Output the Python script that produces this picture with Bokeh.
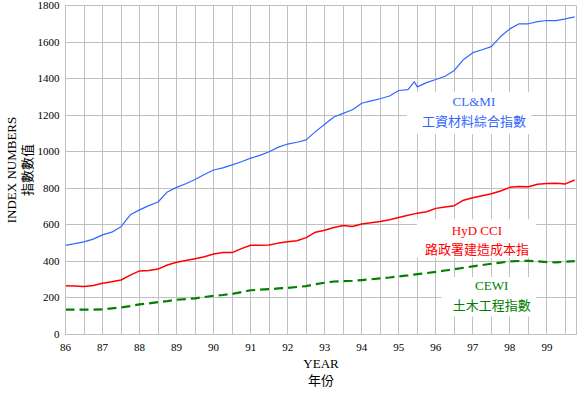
from bokeh.plotting import figure
from bokeh.models import FixedTicker, Range1d, Label, BoxAnnotation, Title
from bokeh.embed import file_html
from bokeh.resources import INLINE

# Quarterly positions (decimal years, 86 = 1986)
years = [86.0, 86.25, 86.5, 86.75, 87.0, 87.25, 87.5, 87.75, 88.0, 88.25, 88.5, 88.75,
         89.0, 89.25, 89.5, 89.75, 90.0, 90.25, 90.5, 90.75, 91.0, 91.25, 91.5, 91.75,
         92.0, 92.25, 92.5, 92.75, 93.0, 93.25, 93.5, 93.75, 94.0, 94.25, 94.5, 94.75,
         95.0, 95.25, 95.42, 95.5, 95.75, 96.0, 96.25, 96.5, 96.75, 97.0, 97.25, 97.5,
         97.75, 98.0, 98.25, 98.5, 98.75, 99.0, 99.25, 99.5, 99.75]

clmi = [488, 497, 507, 522, 545, 560, 590, 655, 682, 705, 725, 780,
        805, 825, 848, 875, 900, 912, 928, 945, 965, 980, 1000, 1025,
        1042, 1052, 1065, 1110, 1150, 1190, 1210, 1230, 1265, 1278, 1290, 1305,
        1335, 1340, 1383, 1355, 1378, 1395, 1413, 1445, 1505, 1542, 1558, 1575,
        1630, 1672, 1700, 1700, 1712, 1718, 1717, 1727, 1738]

hyd_cci = [267, 265, 263, 268, 280, 288, 298, 325, 348, 350, 358, 380,
           395, 405, 415, 425, 440, 448, 448, 470, 488, 488, 490, 500,
           508, 513, 530, 560, 570, 585, 596, 591, 605, 612, 618, 628,
           640, 652, 660, 663, 672, 690, 698, 705, 735, 748, 759, 770,
           785, 805, 810, 808, 822, 826, 828, 824, 845]

cewi = [136, 136, 136, 136, 137, 143, 148, 155, 165, 170, 177, 183,
        190, 194, 198, 205, 212, 216, 222, 232, 242, 245, 248, 252,
        255, 260, 265, 275, 283, 290, 292, 294, 298, 302, 307, 312,
        318, 323, 328, 330, 336, 343, 350, 357, 365, 373, 380, 387,
        393, 400, 402, 403, 400, 396, 395, 398, 401]

year_ticks = [86, 87, 88, 89, 90, 91, 92, 93, 94, 95, 96, 97, 98, 99]
half_year_grid = [86, 86.5, 87, 87.5, 88, 88.5, 89, 89.5, 90, 90.5, 91, 91.5, 92, 92.5,
                  93, 93.5, 94, 94.5, 95, 95.5, 96, 96.5, 97, 97.5, 98, 98.5, 99, 99.5]
value_ticks = [0, 200, 400, 600, 800, 1000, 1200, 1400, 1600, 1800]

SERIF = "'Liberation Serif', 'Noto Sans CJK TC'"
GRID = "#c0c0c0"
BLUE = "#3366ff"
RED = "#ff0000"
GREEN = "#008000"

p = figure(width=579, height=387, output_backend="svg", toolbar_location=None,
           x_range=Range1d(86, 99.8), y_range=Range1d(0, 1800),
           min_border_top=5, min_border_right=3, min_border_left=0, min_border_bottom=0)

p.background_fill_color = "white"
p.border_fill_color = "white"
p.outline_line_color = GRID
p.outline_line_width = 1

# grids
p.xgrid.ticker = FixedTicker(ticks=half_year_grid)
p.ygrid.ticker = FixedTicker(ticks=value_ticks)
for g in (p.xgrid[0], p.ygrid[0]):
    g.grid_line_color = GRID
    g.grid_line_width = 1

# axes
p.xaxis.ticker = FixedTicker(ticks=year_ticks)
p.yaxis.ticker = FixedTicker(ticks=value_ticks)
for ax in (p.xaxis[0], p.yaxis[0]):
    ax.axis_line_color = GRID
    ax.major_tick_line_color = None
    ax.minor_tick_line_color = None
    ax.major_tick_out = 0
    ax.major_label_text_font = SERIF
    ax.major_label_text_font_size = "11px"
    ax.major_label_text_color = "black"
    ax.axis_label_text_font = SERIF
    ax.axis_label_text_font_size = "13px"
    ax.axis_label_text_font_style = "normal"
    ax.axis_label_text_color = "black"

p.xaxis.major_label_standoff = 9
p.yaxis.axis_label = "INDEX NUMBERS\n指數數值"
p.yaxis.axis_label_text_line_height = 1.05
p.yaxis.major_label_standoff = 6
p.yaxis.axis_label_standoff = 0

# x-axis title, two lines under the tick labels
for t in ["YEAR", "年份"]:
    p.add_layout(Title(text=t, align="center", offset=-23, standoff=0,
                       text_font=SERIF, text_font_size="13px",
                       text_font_style="normal", text_color="black"), "below")

# white boxes behind the series labels (cover only the grid)
for (l, r, b, t) in [(95.22, 98.58, 1097, 1325), (95.49, 98.71, 420, 630), (96.15, 98.71, 98, 314)]:
    p.add_layout(BoxAnnotation(left=l, right=r, bottom=b, top=t, fill_color="white",
                               fill_alpha=1.0, line_color=None, level="underlay"))

# series
p.line(years, clmi, line_color=BLUE, line_width=1.2)
p.line(years, hyd_cci, line_color=RED, line_width=1.5)
p.line(years, cewi, line_color=GREEN, line_width=2.2, line_dash="9 5")

labels = [
    (97.03, 1274, "CL&MI", BLUE), (97.03, 1166, "工資材料綜合指數", BLUE),
    (97.11, 569, "HyD CCI", RED), (97.11, 466, "路政署建造成本指", RED),
    (97.51, 266, "CEWI", GREEN), (97.51, 157, "土木工程指數", GREEN),
]
for (x, y, t, c) in labels:
    p.add_layout(Label(x=x, y=y, text=t, text_color=c, text_font=SERIF,
                       text_font_size="13px", text_align="center", text_baseline="middle"))

open("out.html", "w").write(file_html(p, INLINE))
